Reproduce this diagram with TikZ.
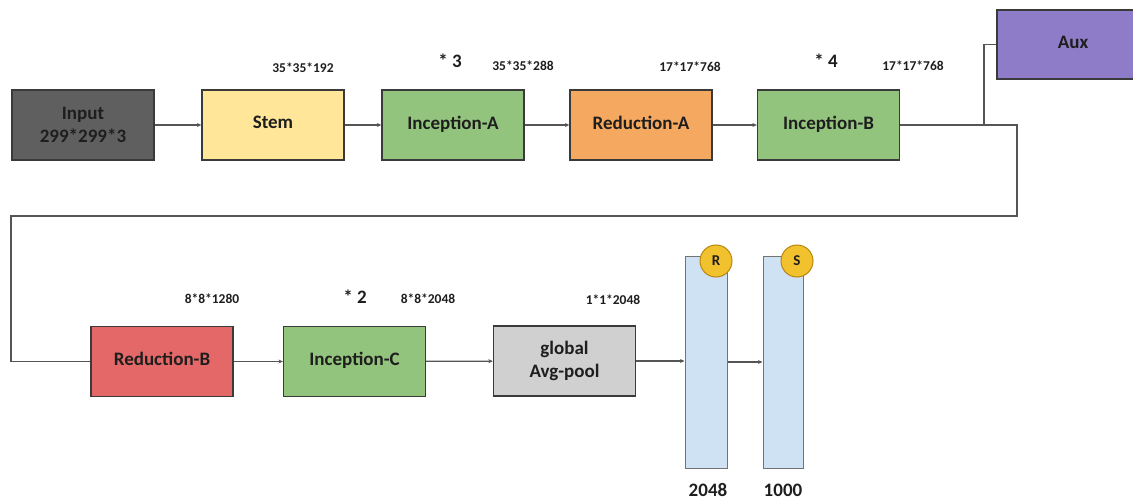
\documentclass[tikz,border=0pt]{standalone}
\usepackage{fontspec}
\setmainfont{Carlito}
\usetikzlibrary{arrows.meta}
\definecolor{edge}{HTML}{3A3A3A}
\definecolor{linec}{HTML}{555555}
\definecolor{cInput}{HTML}{5F5F5F}
\definecolor{cStem}{HTML}{FFE699}
\definecolor{cInc}{HTML}{93C47D}
\definecolor{cRedA}{HTML}{F5A860}
\definecolor{cRedB}{HTML}{E56868}
\definecolor{cAux}{HTML}{8E7CC8}
\definecolor{cPool}{HTML}{D0D0D0}
\definecolor{cBar}{HTML}{CFE2F3}
\definecolor{cCirc}{HTML}{F2C12E}
\definecolor{cCircE}{HTML}{B8860B}
\definecolor{tdark}{HTML}{1E1E1E}
\tikzset{
  blk/.style={draw=edge, line width=1.3pt, minimum width=142pt, minimum height=70pt,
    inner sep=0pt, align=center, text=tdark, font=\bfseries\fontsize{19}{23}\selectfont},
  dimlab/.style={font=\bfseries\fontsize{13.5}{15}\selectfont, text=tdark, inner sep=0pt},
  replab/.style={font=\bfseries\fontsize{19}{21}\selectfont, text=tdark, inner sep=0pt},
  fcbar/.style={draw=gray!90!black, line width=1pt, fill=cBar, inner sep=0pt},
  badge/.style={circle, draw=cCircE, line width=1pt, fill=cCirc, minimum size=32pt,
    inner sep=0pt, text=tdark, font=\bfseries\fontsize{15}{17}\selectfont},
  conn/.style={draw=linec, line width=1.2pt, -{Stealth[length=4.5pt,width=4pt]}},
  plainline/.style={draw=linec, line width=1.2pt},
}
\begin{document}
\begin{tikzpicture}[x=1pt,y=-1pt]
\useasboundingbox (0,0) rectangle (1133,503);
\clip (0,0) rectangle (1133,503);
% top row
\node[blk, fill=cInput] (inp) at (83,125) {Input\\299*299*3};
\node[blk, fill=cStem] (stem) at (273,125) {\raisebox{5pt}{Stem}};
\node[blk, fill=cInc] (inca) at (453,125) {\raisebox{5pt}{Inception-A}};
\node[blk, fill=cRedA] (reda) at (641,125) {\raisebox{5pt}{Reduction-A}};
\node[blk, fill=cInc] (incb) at (828.5,125) {\raisebox{5pt}{Inception-B}};
\node[blk, fill=cAux, minimum width=152pt, minimum height=69pt] (aux) at (1073,44.5) {\raisebox{5pt}{Aux}};
% bottom row
\node[blk, fill=cRedB] (redb) at (162,361.5) {\raisebox{5pt}{Reduction-B}};
\node[blk, fill=cInc] (incc) at (354.5,361.5) {\raisebox{5pt}{Inception-C}};
\node[blk, fill=cPool] (pool) at (564.5,361) {global\\Avg-pool};
\node[fcbar, minimum width=42pt, minimum height=212pt] (rbar) at (706,362) {};
\node[fcbar, minimum width=40pt, minimum height=212pt] (sbar) at (783,362) {};
\node[badge] (rc) at (716,261) {R};
\node[badge] (sc) at (797,261) {S};
% labels
\node[dimlab] (l1) at (303,68) {35*35*192};
\node[replab] (r1) at (450,61) {* 3};
\node[dimlab] (l2) at (523,66) {35*35*288};
\node[dimlab] (l3) at (690,67) {17*17*768};
\node[replab] (r2) at (826,61) {* 4};
\node[dimlab] (l4) at (913,66) {17*17*768};
\node[dimlab] (l5) at (212,299) {8*8*1280};
\node[replab] (r3) at (355,297) {* 2};
\node[dimlab] (l6) at (428,299) {8*8*2048};
\node[dimlab] (l7) at (613,300) {1*1*2048};
\node[replab] (n1) at (708,490) {2048};
\node[replab] (n2) at (783,490) {1000};
% connectors
\draw[conn] (inp) -- (stem);
\draw[conn] (stem) -- (inca);
\draw[conn] (inca) -- (reda);
\draw[conn] (reda) -- (incb);
\coordinate (tr) at (1017,125);
\coordinate (br) at (1017,216);
\coordinate (bl) at (11,216);
\coordinate (lb) at (11,361.5);
\coordinate (bp) at (984,125);
\draw[plainline] (incb.east) -- (tr) -- (br) -- (bl) -- (lb) -- (redb.west);
\draw[plainline] (bp) |- (aux.west);
\draw[conn] (redb) -- (incc);
\draw[conn] (incc) -- (pool);
\draw[conn] (pool.east) -- (pool.east -| rbar.west);
\draw[conn] (rbar.east) -- (sbar.west);
\end{tikzpicture}
\end{document}
